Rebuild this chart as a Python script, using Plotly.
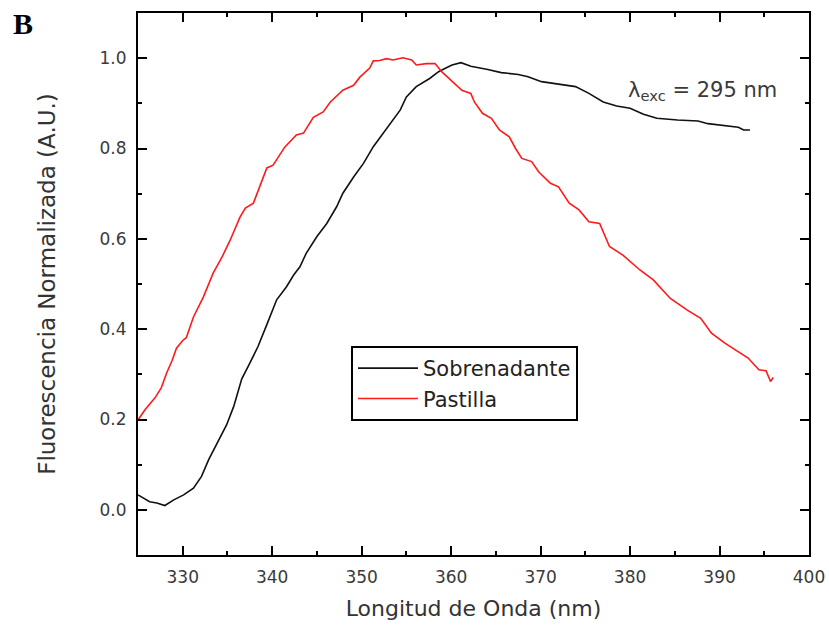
import plotly.graph_objects as go

# ---- data ----
pastilla_x = [325.0, 325.8, 326.9, 327.6, 328.2, 328.8, 329.3, 330.0, 330.4, 331.2, 332.3, 333.4,
              334.4, 335.3, 336.4, 337.0, 337.9, 338.6, 339.4, 340.1, 341.4, 342.7, 343.5, 344.6,
              345.7, 346.5, 347.9, 349.1, 349.8, 350.9, 351.3, 352.0, 352.8, 353.5, 354.6, 355.6,
              356.1, 357.2, 358.2, 359.0, 360.1, 361.2, 362.2, 362.6, 363.5, 364.5, 365.4, 366.5,
              367.2, 367.9, 369.0, 369.8, 371.1, 372.0, 373.2, 374.3, 375.4, 376.6, 377.7, 379.2,
              381.1, 382.6, 384.5, 386.4, 387.9, 389.1, 390.6, 392.1, 393.2, 394.4, 395.2, 395.7, 396.0]
pastilla_y = [0.199, 0.222, 0.248, 0.270, 0.303, 0.330, 0.358, 0.375, 0.381, 0.427, 0.471, 0.524,
              0.560, 0.597, 0.648, 0.668, 0.679, 0.715, 0.757, 0.763, 0.803, 0.830, 0.834, 0.869,
              0.881, 0.903, 0.929, 0.940, 0.958, 0.978, 0.994, 0.995, 0.999, 0.996, 1.001, 0.996,
              0.985, 0.988, 0.988, 0.969, 0.948, 0.929, 0.922, 0.903, 0.878, 0.867, 0.841, 0.826,
              0.800, 0.778, 0.771, 0.748, 0.723, 0.715, 0.679, 0.664, 0.638, 0.634, 0.583, 0.564,
              0.531, 0.509, 0.468, 0.442, 0.424, 0.391, 0.369, 0.350, 0.336, 0.310, 0.308, 0.284, 0.293]

sobre_x = [325.0, 325.7, 326.3, 327.1, 328.0, 329.0, 330.1, 331.2, 332.1, 332.9, 333.8, 334.9,
           335.7, 336.6, 337.5, 338.4, 339.4, 340.5, 341.6, 342.4, 343.1, 343.8, 345.0, 346.1,
           347.2, 347.9, 349.1, 350.2, 351.3, 352.4, 353.5, 354.3, 355.0, 356.1, 357.6, 358.6,
           359.3, 360.1, 361.1, 362.2, 364.1, 365.6, 367.5, 368.6, 370.1, 371.7, 373.9, 375.4,
           377.0, 378.5, 380.0, 381.5, 383.0, 385.3, 387.6, 388.7, 390.6, 392.1, 392.7, 393.4]
sobre_y = [0.033, 0.025, 0.018, 0.015, 0.0095, 0.022, 0.033, 0.048, 0.074, 0.111, 0.147, 0.188,
           0.229, 0.290, 0.325, 0.361, 0.410, 0.465, 0.494, 0.520, 0.538, 0.568, 0.605, 0.634,
           0.671, 0.701, 0.737, 0.767, 0.804, 0.833, 0.863, 0.885, 0.914, 0.937, 0.955, 0.970,
           0.977, 0.985, 0.990, 0.982, 0.975, 0.968, 0.964, 0.959, 0.948, 0.944, 0.937, 0.922,
           0.903, 0.894, 0.889, 0.876, 0.867, 0.863, 0.861, 0.855, 0.850, 0.847, 0.841, 0.841]

x_ticks = [330, 340, 350, 360, 370, 380, 390, 400]
y_ticks = [0.0, 0.2, 0.4, 0.6, 0.8, 1.0]

FONT = "DejaVu Sans"

fig = go.Figure()
fig.add_trace(go.Scatter(x=sobre_x, y=sobre_y, mode="lines", name="Sobrenadante",
                         line=dict(color="#111111", width=1.6)))
fig.add_trace(go.Scatter(x=pastilla_x, y=pastilla_y, mode="lines", name="Pastilla",
                         line=dict(color="#ff1a1a", width=1.6)))

axis_common = dict(showline=True, linewidth=2, linecolor="black", mirror="ticks",
                   ticks="inside", ticklen=9, tickwidth=2, tickcolor="black",
                   showgrid=False, zeroline=False, automargin=False,
                   tickfont=dict(family=FONT, size=17, color="#3a3a3a"))

fig.update_xaxes(range=[325, 400], tickvals=x_ticks, ticktext=[str(v) for v in x_ticks],
                 minor=dict(ticks="inside", ticklen=4, tickwidth=2, tickcolor="black", dtick=5,
                            tick0=325),
                 title=dict(text="Longitud de Onda (nm)", font=dict(family=FONT, size=22, color="#333333"),
                            standoff=14),
                 ticklabelstandoff=6,
                 **axis_common)
fig.update_yaxes(range=[-0.1, 1.1], tickvals=y_ticks, ticktext=[f"{v:.1f}" for v in y_ticks],
                 minor=dict(ticks="inside", ticklen=4, tickwidth=2, tickcolor="black", dtick=0.1,
                            tick0=0),
                 title=dict(text="Fluorescencia Normalizada (A.U.)",
                            font=dict(family=FONT, size=23, color="#333333"), standoff=38),
                 ticklabelstandoff=6,
                 **axis_common)

fig.add_annotation(x=379.5, y=0.927, xref="x", yref="y", xanchor="left", yanchor="middle",
                   text="λ<sub>exc</sub> = 295 nm", showarrow=False,
                   font=dict(family=FONT, size=21, color="#3a3a3a"))

fig.add_annotation(x=0.0, y=1.0, xref="paper", yref="paper", xanchor="left", yanchor="top",
                   text="<b>B</b>", showarrow=False, xshift=-127, yshift=8,
                   font=dict(family="Liberation Serif", size=30, color="black"))

fig.update_layout(
    width=829, height=630,
    margin=dict(l=138, r=20, t=13, b=75),
    paper_bgcolor="white", plot_bgcolor="white",
    showlegend=True,
    legend=dict(x=0.3174, y=0.3856, xanchor="left", yanchor="top",
                bgcolor="white", bordercolor="black", borderwidth=2,
                font=dict(family=FONT, size=21, color="#222222"),
                itemwidth=60, tracegroupgap=0),
)

fig.write_html("out.html")
